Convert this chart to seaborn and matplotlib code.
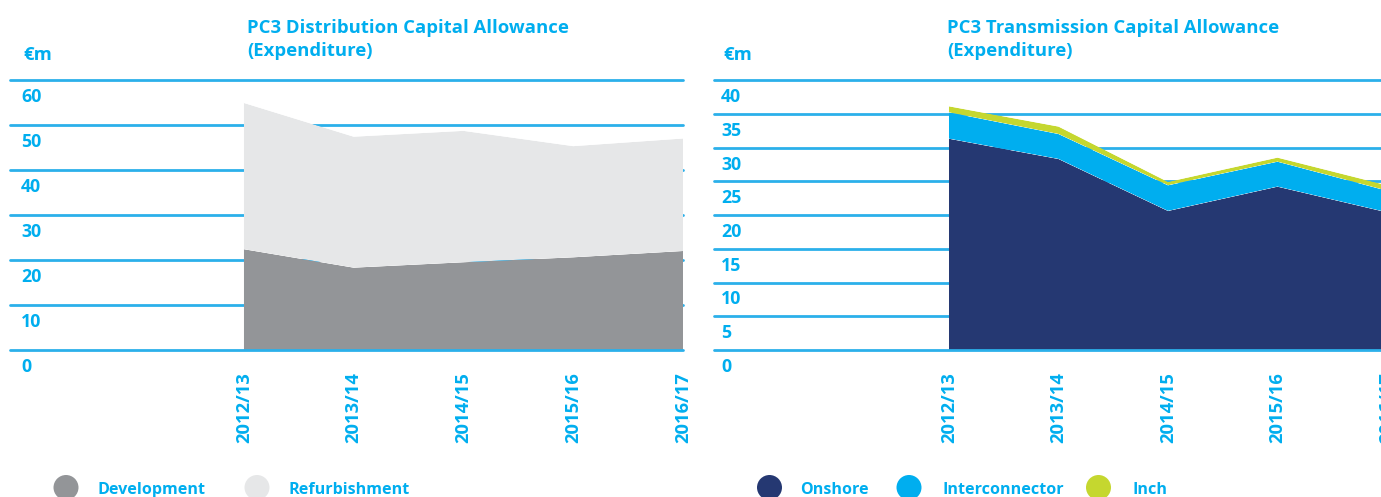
import numpy as np
import pandas as pd
import matplotlib
matplotlib.use("Agg")
import matplotlib.pyplot as plt
import seaborn as sns
import seaborn.objects as so
from matplotlib.patches import Ellipse
from matplotlib.transforms import blended_transform_factory, offset_copy

# ---- data -------------------------------------------------------------
years = ["2012/13", "2013/14", "2014/15", "2015/16", "2016/17"]

dist_series = ["Development", "Refurbishment"]
development = [22.4, 18.3, 19.5, 20.6, 22.0]
refurbishment = [32.5, 29.1, 29.2, 24.7, 25.0]
dist_ticks = [0, 10, 20, 30, 40, 50, 60]

trans_series = ["Onshore", "Interconnector", "Inch"]
onshore = [31.3, 28.3, 20.6, 24.2, 20.4]
interconnector = [3.9, 3.7, 3.8, 3.7, 3.2]
inch = [0.9, 1.1, 0.5, 0.6, 0.8]
trans_ticks = [0, 5, 10, 15, 20, 25, 30, 35, 40]

dist_title = ["PC3 Distribution Capital Allowance", "(Expenditure)"]
trans_title = ["PC3 Transmission Capital Allowance", "(Expenditure)"]
unit_label = "€m"

# ---- style ------------------------------------------------------------
BLUE = "#00AEEF"
GRID = "#2BB0EA"
dist_colors = ["#939598", "#E6E7E8"]
trans_colors = ["#253872", "#00AEEF", "#C5D72F"]

sns.set_theme(style="white")
plt.rcParams["font.family"] = ["Open Sans", "DejaVu Sans"]

W, H = 1381, 497
fig = plt.figure(figsize=(W / 100, H / 100), dpi=100)


def px_axes(x0, x1, y_top, y_bot):
    return fig.add_axes([x0 / W, (H - y_bot) / H, (x1 - x0) / W, (y_bot - y_top) / H])


def draw_panel(ax, names, values, colors, ticks, xmin, label_x, title, title_x,
               unit_x, legend_items):
    n = len(years)
    df = pd.DataFrame({
        "pos": np.tile(np.arange(n), len(names)),
        "value": np.concatenate([np.asarray(v, dtype=float) for v in values]),
        "series": np.repeat(names, n),
    })
    (
        so.Plot(df, x="pos", y="value", color="series")
        .add(so.Area(alpha=1, edgewidth=0), so.Stack(), legend=False)
        .scale(color=so.Nominal(colors, order=names))
        .on(ax)
        .plot()
    )

    ax.set_xlim(xmin, n - 1)
    ax.set_ylim(0, ticks[-1])
    ax.set_facecolor("none")
    for s in ax.spines.values():
        s.set_visible(False)
    ax.set_xlabel("")
    ax.set_ylabel("")
    ax.grid(False)

    # horizontal rules behind the areas, baseline on top
    for t in ticks[1:]:
        ax.axhline(t, color=GRID, lw=2, zorder=0.5, clip_on=False)
    ax.axhline(0, color=GRID, lw=2, zorder=5, clip_on=False)

    # y values sit just below their rule
    tr = offset_copy(blended_transform_factory(fig.transFigure, ax.transData),
                     fig=fig, x=0, y=-8, units="dots")
    ax.set_yticks([])
    for t in ticks:
        ax.text(label_x / W, t, str(t), transform=tr, ha="left", va="top",
                fontsize=12.8, fontweight="bold", color=BLUE)

    ax.set_xticks(range(n), years)
    ax.tick_params(axis="x", length=0, pad=16)
    for lab in ax.get_xticklabels():
        lab.set_rotation(90)
        lab.set_fontweight("bold")
        lab.set_fontsize(13.2)
        lab.set_color(BLUE)
        lab.set_va("top")
        lab.set_ha("center")

    # heading and unit
    fig.text(title_x / W, 1 - 33.5 / H, title[0], ha="left", va="baseline",
             fontsize=13.3, fontweight="bold", color=BLUE)
    fig.text(title_x / W, 1 - 56 / H, title[1], ha="left", va="baseline",
             fontsize=13.3, fontweight="bold", color=BLUE)
    fig.text(unit_x / W, 1 - 60 / H, unit_label, ha="left", va="baseline",
             fontsize=13.3, fontweight="bold", color=BLUE)

    # legend: dots with labels along the bottom edge
    for (cx, tx), name, col in zip(legend_items, names, colors):
        fig.add_artist(Ellipse((cx / W, 1 - 487.5 / H), 25 / W, 25 / H,
                               transform=fig.transFigure, facecolor=col,
                               edgecolor="none"))
        fig.text(tx / W, 1 - 494 / H, name, ha="left", va="baseline",
                 fontsize=11.6, fontweight="bold", color=BLUE)


ax1 = px_axes(10, 683, 80, 350)
draw_panel(ax1, dist_series, [development, refurbishment], dist_colors,
           dist_ticks, -2.13, 21, dist_title, 247, 23,
           [(66, 97), (257, 289)])

ax2 = px_axes(714, 1387, 80, 350)
draw_panel(ax2, trans_series, [onshore, interconnector, inch], trans_colors,
           trans_ticks, -2.146, 721, trans_title, 947, 723,
           [(769.5, 800), (909, 942), (1098.5, 1132)])

fig.savefig("out.png", dpi=100, facecolor="white")
